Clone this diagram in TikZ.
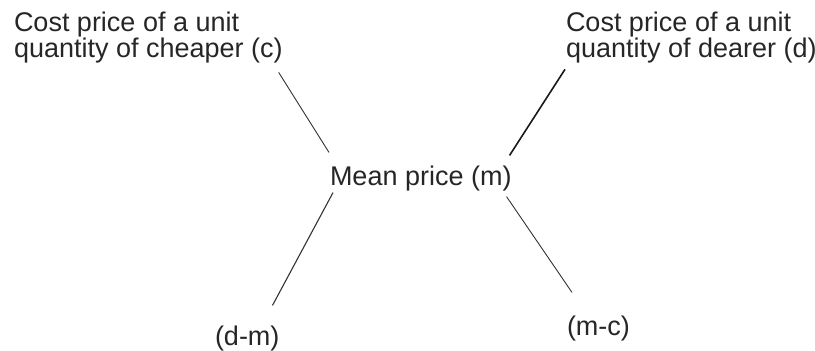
\documentclass[tikz,border=0pt]{standalone}
\usepackage{fontspec}
\setmainfont{Liberation Sans}
\usetikzlibrary{positioning}

\begin{document}
\begin{tikzpicture}[
    x=1pt, y=-1pt,
    every node/.style={inner sep=0pt, outer sep=0pt, text=black!85},
    pricetext/.style={font=\fontsize{27}{25}\selectfont, align=left},
    thinline/.style={draw=black!80, line width=0.9pt},
    thickline/.style={draw=black!90, line width=1.6pt},
]
\useasboundingbox (0,0) rectangle (815,351);

% Price labels
\node[pricetext, anchor=north west] (cheap) at (14,12) {Cost price of a unit\\quantity of cheaper (c)};
\node[pricetext, anchor=north west] (dear)  at (566,12) {Cost price of a unit\\quantity of dearer (d)};
\node[pricetext, anchor=base west]  (mean)  at (330,185) {Mean price (m)};
\node[pricetext, anchor=base west]  (dm)    at (215,345) {(d-m)};
\node[pricetext, anchor=base west]  (mc)    at (567,335) {(m-c)};

% Cross lines
\draw[thinline]  ([xshift=-4pt, yshift=-9pt]cheap.south east) -- ([xshift=-1pt, yshift=13pt]mean.north west);
\draw[thickline] ([xshift=-1pt, yshift=-6pt]dear.south west)  -- ([xshift=-2pt, yshift=10pt]mean.north east);
\draw[thinline, line width=1.1pt] ([xshift=3pt, yshift=-2pt]mean.south west) -- ([xshift=-7pt, yshift=20pt]dm.north east);
\draw[thinline]  ([xshift=-5pt, yshift=-6pt]mean.south east) -- ([xshift=5pt, yshift=23pt]mc.north west);

\end{tikzpicture}
\end{document}
